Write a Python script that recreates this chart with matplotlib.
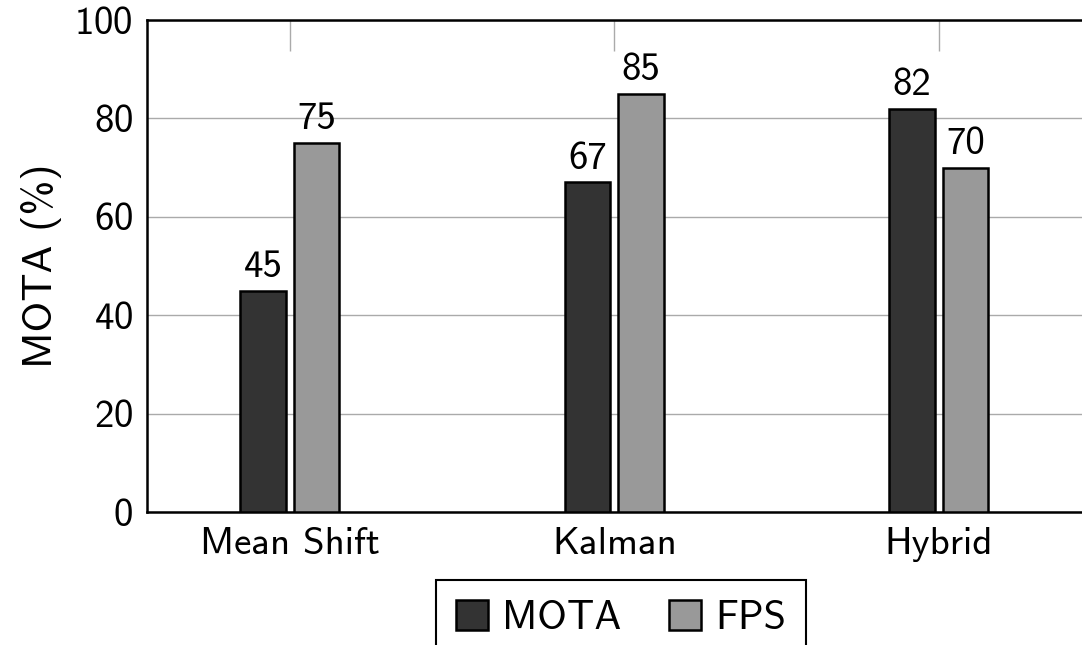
import matplotlib
matplotlib.use('Agg')
import matplotlib.pyplot as plt
import numpy as np

# dados do gráfico
metodos = ['Mean Shift', 'Kalman', 'Hybrid']
mota = [45, 67, 82]
fps = [75, 85, 70]
series = ['MOTA', 'FPS']

plt.rcParams['font.family'] = ['cmss10', 'DejaVu Sans']
plt.rcParams['axes.unicode_minus'] = False
plt.rcParams['axes.formatter.use_mathtext'] = True

fig = plt.figure(figsize=(10.82, 6.45), dpi=100)
ax = fig.add_axes([147 / 1082, 133 / 645, 954 / 1082, 492 / 645])

x = np.arange(len(metodos))
largura = 0.14
desloc = 0.0825

b1 = ax.bar(x - desloc, mota, largura, color='#333333', edgecolor='black',
            linewidth=1.8, label=series[0], zorder=3)
b2 = ax.bar(x + desloc, fps, largura, color='#999999', edgecolor='black',
            linewidth=1.8, label=series[1], zorder=3)

# rótulos em cima das barras
for barras in (b1, b2):
    for r in barras:
        ax.annotate(f'{r.get_height():g}', (r.get_x() + r.get_width() / 2, r.get_height()),
                    xytext=(0, 4), textcoords='offset points', ha='center', va='bottom',
                    fontsize=28)

ax.set_xlim(-0.44, 2.5)
ax.set_ylim(0, 100)
ax.set_yticks([0, 20, 40, 60, 80, 100])
ax.set_xticks(x)
ax.set_xticklabels(metodos)

ax.yaxis.grid(True, color='#aaaaaa', linewidth=1.0, zorder=0)
ax.set_axisbelow(True)

ax.tick_params(axis='x', which='both', bottom=False, top=True, direction='in',
               length=22, width=1.0, color='#aaaaaa', labelsize=28, pad=11)
ax.tick_params(axis='y', length=0, labelsize=28, pad=10)

for lado in ['left', 'top', 'bottom']:
    ax.spines[lado].set_linewidth(1.8)
    ax.spines[lado].set_color('black')
ax.spines['right'].set_visible(False)

ax.set_ylabel('MOTA (%)', fontsize=30, labelpad=9)

leg = fig.legend(handles=[b1, b2], labels=series, loc='upper center',
                 bbox_to_anchor=(621 / 1082, 65 / 645), ncol=2, fontsize=29,
                 frameon=True, fancybox=False, edgecolor='black', framealpha=1,
                 handlelength=0.78, handleheight=0.78, handletextpad=0.35,
                 columnspacing=1.2, borderpad=0.5, borderaxespad=0)
leg.get_frame().set_linewidth(1.5)

plt.savefig('out.png', dpi=100)
plt.close()
